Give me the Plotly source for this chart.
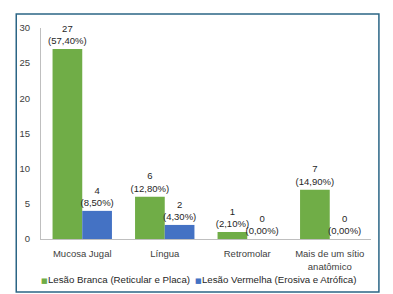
import plotly.graph_objects as go

categories = ["Mucosa Jugal", "Língua", "Retromolar", "Mais de um sítio<br>anatômico"]
branca_name = "Lesão Branca (Reticular e Placa)"
branca_values = [27, 6, 1, 7]
branca_pct = ["57,40%", "12,80%", "2,10%", "14,90%"]
vermelha_name = "Lesão Vermelha (Erosiva e Atrófica)"
vermelha_values = [4, 2, 0, 0]
vermelha_pct = ["8,50%", "4,30%", "0,00%", "0,00%"]
y_ticks = [0, 5, 10, 15, 20, 25, 30]

FONT = "Liberation Sans, Arial, sans-serif"
GREEN = "#70AD47"
BLUE = "#4472C4"

fig = go.Figure()
fig.add_trace(go.Bar(
    name=branca_name,
    x=categories, y=branca_values,
    text=[f"{v}<br>({p})" for v, p in zip(branca_values, branca_pct)],
    textposition="outside", constraintext="none", cliponaxis=False,
    textfont=dict(size=9.5, color="#262626", family=FONT),
    marker=dict(color=GREEN, line=dict(width=0)),
    hoverinfo="skip",
))
fig.add_trace(go.Bar(
    name=vermelha_name,
    x=categories, y=vermelha_values,
    text=[f"{v}<br>({p})" for v, p in zip(vermelha_values, vermelha_pct)],
    textposition="outside", constraintext="none", cliponaxis=False,
    textfont=dict(size=9.5, color="#262626", family=FONT),
    marker=dict(color=BLUE, line=dict(width=0)),
    hoverinfo="skip",
))

def legend_item(name, color):
    return (f'<span style="color:{color};font-family:DejaVu Sans;font-size:7px">■</span>'
            f'<span style="font-size:1px"> </span>{name}')

fig.update_layout(
    width=393, height=294,
    margin=dict(l=30, r=30, t=20, b=63),
    paper_bgcolor="white", plot_bgcolor="white",
    font=dict(family=FONT, size=9.5, color="#404040"),
    barmode="group", bargap=0.28, bargroupgap=0,
    showlegend=False,
    xaxis=dict(showgrid=False, showline=True, linecolor="#BFBFBF", linewidth=1,
               ticks="outside", ticklen=6, tickcolor="rgba(0,0,0,0)",
               tickfont=dict(size=9.5, color="#404040"), zeroline=False),
    yaxis=dict(range=[0, 30], tickvals=y_ticks, showgrid=False, showline=True,
               linecolor="#BFBFBF", linewidth=1, zeroline=False,
               ticks="outside", ticklen=8, tickcolor="rgba(0,0,0,0)",
               tickfont=dict(size=9.5, color="#404040")),
    annotations=[
        dict(text=legend_item(branca_name, GREEN), xref="paper", yref="paper",
             x=-0.006, xanchor="left", y=-0.194, yanchor="middle",
             showarrow=False, font=dict(size=9.7, color="#262626", family=FONT)),
        dict(text=legend_item(vermelha_name, BLUE), xref="paper", yref="paper",
             x=0.462, xanchor="left", y=-0.194, yanchor="middle",
             showarrow=False, font=dict(size=9.7, color="#262626", family=FONT)),
    ],
    shapes=[dict(type="rect", xref="paper", yref="paper",
                 x0=-0.075, x1=1.024, y0=-0.251, y1=1.066,
                 line=dict(color="#2B6585", width=1.5), fillcolor="rgba(0,0,0,0)",
                 layer="below")],
)

fig.write_html("out.html")
